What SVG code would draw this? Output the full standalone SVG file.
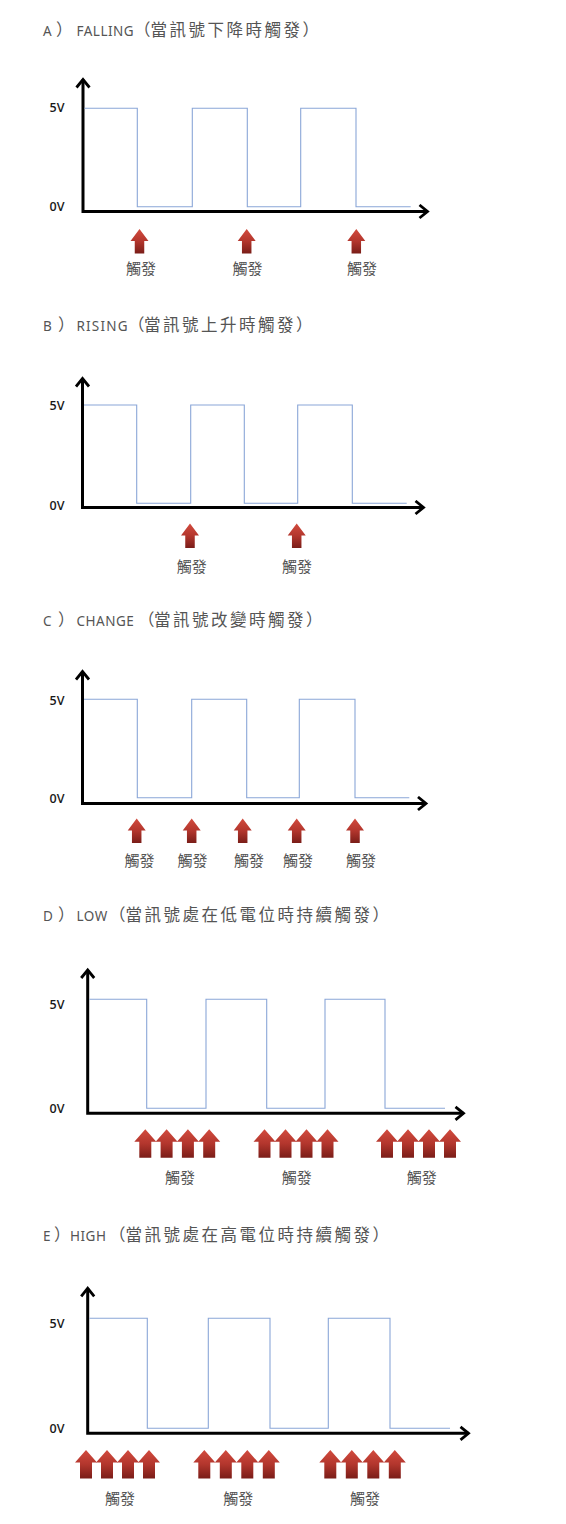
<svg xmlns="http://www.w3.org/2000/svg" width="566" height="1524" viewBox="0 0 566 1524">
<style>
.bg{fill:#fff}
.title{font-family:"Noto Sans CJK TC","Noto Sans",sans-serif;font-size:16.5px;letter-spacing:2.5px;fill:#555}
.lat{font-family:"Noto Sans","Noto Sans CJK TC",sans-serif;font-size:13.5px;letter-spacing:0.5px}
.axis{fill:none;stroke:#000;stroke-width:3;stroke-linejoin:miter;marker-start:url(#ax);marker-end:url(#ax)}
.sig{fill:none;stroke:#8aa6d8;stroke-width:1.1}
.v{font-family:"Open Sans","Liberation Sans",Arial,sans-serif;font-size:12.5px;font-weight:600;fill:#1a1a1a}
.t{font-family:"Noto Sans CJK TC","Noto Sans",sans-serif;font-size:15px;fill:#555;text-anchor:middle}
</style>
<defs>
<marker id="ax" markerUnits="userSpaceOnUse" markerWidth="14" markerHeight="16" viewBox="0 0 14 16" refX="11" refY="8" orient="auto-start-reverse">
<path d="M3,1.5 L11,8 L3,14.5" fill="none" stroke="#000" stroke-width="2.8"/>
</marker>
<linearGradient id="rg" x1="0" y1="0" x2="0" y2="1">
<stop offset="0" stop-color="#d24b3e"/>
<stop offset="0.5" stop-color="#b3362d"/>
<stop offset="1" stop-color="#7a1d18"/>
</linearGradient>
<path id="arr1" d="M0,0 L9,12 L4.75,12 L4.75,24.5 L-4.75,24.5 L-4.75,12 L-9,12 Z" fill="url(#rg)"/>
<path id="arr4" d="M0,0 L11,12.5 L6,12.5 L6,28.5 L-6,28.5 L-6,12.5 L-11,12.5 Z" fill="url(#rg)"/>
</defs>
<rect class="bg" x="0" y="0" width="566" height="1524"/>

<g id="panel-a">
<text class="title" y="36"><tspan class="lat" x="43">A</tspan><tspan x="56">）</tspan><tspan class="lat" x="76.5">FALLING</tspan><tspan x="134">（</tspan><tspan x="150.5">當訊號下降時觸發）</tspan></text>
<path class="axis" d="M83,79.5 V211.5 H427.5"/>
<path class="sig" d="M84.5,108.3 H137.3 V206.7 H192.3 V108.3 H247.3 V206.7 H300.7 V108.3 H356 V206.7 H410.7"/>
<text class="v" x="49.5" y="112">5V</text>
<text class="v" x="49.5" y="211">0V</text>
<use href="#arr1" x="139.5" y="229"/>
<use href="#arr1" x="246.7" y="229"/>
<use href="#arr1" x="356.3" y="229"/>
<text class="t" x="141" y="273.5">觸發</text>
<text class="t" x="247.5" y="273.5">觸發</text>
<text class="t" x="362" y="273.5">觸發</text>
</g>

<g id="panel-b">
<text class="title" y="331"><tspan class="lat" x="43">B</tspan><tspan x="58">）</tspan><tspan class="lat" x="76.5" style="letter-spacing:1.2px">RISING</tspan><tspan x="128">（</tspan><tspan x="144">當訊號上升時觸發）</tspan></text>
<path class="axis" d="M82.5,378.5 V507.5 H423.5"/>
<path class="sig" d="M84,405 H136.7 V503.3 H190.7 V405 H244.3 V503.3 H297.7 V405 H352.3 V503.3 H406.7"/>
<text class="v" x="49.5" y="410">5V</text>
<text class="v" x="49.5" y="509.5">0V</text>
<use href="#arr1" x="190" y="523.5"/>
<use href="#arr1" x="296.7" y="523.5"/>
<text class="t" x="191.7" y="572">觸發</text>
<text class="t" x="297" y="572">觸發</text>
</g>

<g id="panel-c">
<text class="title" y="626"><tspan class="lat" x="43">C</tspan><tspan x="58">）</tspan><tspan class="lat" x="76.5">CHANGE</tspan><tspan x="138">（</tspan><tspan x="154">當訊號改變時觸發）</tspan></text>
<path class="axis" d="M82.5,671.5 V803.5 H426"/>
<path class="sig" d="M84,699.3 H137.3 V797.7 H191.7 V699.3 H246.7 V797.7 H299.3 V699.3 H355 V797.7 H409.3"/>
<text class="v" x="49.5" y="704.5">5V</text>
<text class="v" x="49.5" y="802.5">0V</text>
<use href="#arr1" x="136.7" y="818.5"/>
<use href="#arr1" x="191.7" y="818.5"/>
<use href="#arr1" x="242.7" y="818.5"/>
<use href="#arr1" x="296.7" y="818.5"/>
<use href="#arr1" x="355" y="818.5"/>
<text class="t" x="139.5" y="865.5">觸發</text>
<text class="t" x="192.5" y="865.5">觸發</text>
<text class="t" x="249" y="865.5">觸發</text>
<text class="t" x="298" y="865.5">觸發</text>
<text class="t" x="361" y="865.5">觸發</text>
</g>

<g id="panel-d">
<text class="title" y="921"><tspan class="lat" x="43">D</tspan><tspan x="58">）</tspan><tspan class="lat" x="76.5">LOW</tspan><tspan x="109">（</tspan><tspan x="125.5">當訊號處在低電位時持續觸發）</tspan></text>
<path class="axis" d="M87.7,970 V1113.3 H463.5"/>
<path class="sig" d="M89.2,999.3 H146.7 V1108.3 H206 V999.3 H266.7 V1108.3 H325 V999.3 H385 V1108.3 H445"/>
<text class="v" x="49.5" y="1009">5V</text>
<text class="v" x="49.5" y="1113">0V</text>
<use href="#arr4" x="145.3" y="1129.3"/>
<use href="#arr4" x="166.6" y="1129.3"/>
<use href="#arr4" x="187.9" y="1129.3"/>
<use href="#arr4" x="209.2" y="1129.3"/>
<use href="#arr4" x="264.5" y="1129.3"/>
<use href="#arr4" x="285.5" y="1129.3"/>
<use href="#arr4" x="306.5" y="1129.3"/>
<use href="#arr4" x="327.5" y="1129.3"/>
<use href="#arr4" x="387" y="1129.3"/>
<use href="#arr4" x="408" y="1129.3"/>
<use href="#arr4" x="429" y="1129.3"/>
<use href="#arr4" x="450" y="1129.3"/>
<text class="t" x="180" y="1183">觸發</text>
<text class="t" x="296.7" y="1183">觸發</text>
<text class="t" x="421.7" y="1183">觸發</text>
</g>

<g id="panel-e">
<text class="title" y="1241"><tspan class="lat" x="43">E</tspan><tspan x="54">）</tspan><tspan class="lat" x="70">HIGH</tspan><tspan x="109">（</tspan><tspan x="125.5">當訊號處在高電位時持續觸發）</tspan></text>
<path class="axis" d="M87.7,1288.3 V1433.3 H468.5"/>
<path class="sig" d="M89.2,1318.3 H147.3 V1428.3 H208.3 V1318.3 H270 V1428.3 H328.3 V1318.3 H390 V1428.3 H450"/>
<text class="v" x="49.5" y="1327.5">5V</text>
<text class="v" x="49.5" y="1433">0V</text>
<use href="#arr4" x="86" y="1450"/>
<use href="#arr4" x="107" y="1450"/>
<use href="#arr4" x="128" y="1450"/>
<use href="#arr4" x="149" y="1450"/>
<use href="#arr4" x="204.3" y="1450"/>
<use href="#arr4" x="225.8" y="1450"/>
<use href="#arr4" x="247.3" y="1450"/>
<use href="#arr4" x="268.8" y="1450"/>
<use href="#arr4" x="330.3" y="1450"/>
<use href="#arr4" x="351.8" y="1450"/>
<use href="#arr4" x="373.3" y="1450"/>
<use href="#arr4" x="394.8" y="1450"/>
<text class="t" x="120" y="1503.5">觸發</text>
<text class="t" x="238.3" y="1503.5">觸發</text>
<text class="t" x="365" y="1503.5">觸發</text>
</g>
</svg>
